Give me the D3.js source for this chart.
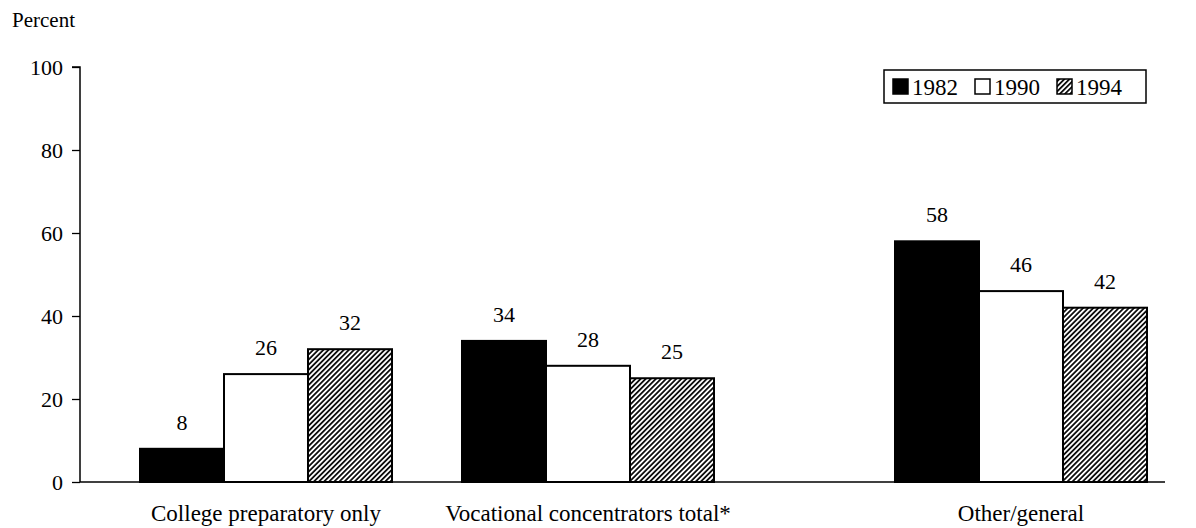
<!DOCTYPE html>
<html>
  <head>
    <script src="https://d3js.org/d3.v7.min.js"></script>
    <style>
      body { margin: 0; background: #fff; }
      text { font-family: "Liberation Serif", "Times New Roman", serif; fill: #000; }
    </style>
  </head>
  <body>
    <script>

    // data
    var categories = ["College preparatory only", "Vocational concentrators total*", "Other/general"];
    var years = ["1982", "1990", "1994"];
    var v1982 = [8, 34, 58];
    var v1990 = [26, 28, 46];
    var v1994 = [32, 25, 42];
    var yTicks = [0, 20, 40, 60, 80, 100];

    var seriesValues = [v1982, v1990, v1994];

    var w = 1196, h = 528;
    var y0 = 482, y1 = 67;   // pixel positions of 0 and 100
    var axisX = 80;

    var svg = d3.select("body").append("svg")
      .attr("width", w)
      .attr("height", h);

    // hatch pattern for 1994
    var defs = svg.append("defs");
    var pat = defs.append("pattern")
      .attr("id", "hatch")
      .attr("patternUnits", "userSpaceOnUse")
      .attr("width", 3.6)
      .attr("height", 3.6)
      .attr("patternTransform", "rotate(45)");
    pat.append("rect").attr("width", 3.6).attr("height", 3.6).attr("fill", "#fff");
    pat.append("line")
      .attr("x1", 0.9).attr("y1", 0).attr("x2", 0.9).attr("y2", 3.6)
      .attr("stroke", "#000").attr("stroke-width", 1.7);

    var fills = ["#000", "#fff", "url(#hatch)"];

    // scales
    var yScale = d3.scaleLinear().domain([0, 100]).range([y0, y1]);

    // group centres are not evenly spaced in the original
    var xGroup = d3.scaleLinear().domain([0, 1, 2]).range([266, 588, 1021]);
    var barW = 84;
    var xSub = d3.scaleBand().domain(years).range([-1.5 * barW, 1.5 * barW]).padding(0);

    // y axis
    var yAxis = d3.axisLeft(yScale)
      .tickValues(yTicks)
      .tickSize(8)
      .tickPadding(9);
    var gy = svg.append("g")
      .attr("transform", "translate(" + axisX + ",0)")
      .call(yAxis);
    gy.select(".domain").attr("stroke", "#000").attr("stroke-width", 1.5)
      .attr("d", "M-8," + y1 + "H0V" + y0);
    gy.selectAll(".tick line").attr("stroke", "#000").attr("stroke-width", 1.3);
    gy.selectAll(".tick text")
      .style("font-family", "Liberation Serif, serif")
      .style("font-size", "22px")
      .attr("fill", "#000");

    // x baseline
    svg.append("line")
      .attr("x1", axisX).attr("x2", 1165)
      .attr("y1", yScale(0)).attr("y2", yScale(0))
      .attr("stroke", "#000").attr("stroke-width", 1.5);

    // bars
    var rows = [];
    categories.forEach(function(c, i) {
      years.forEach(function(yr, j) {
        rows.push({ cat: i, year: yr, s: j, value: seriesValues[j][i] });
      });
    });

    svg.selectAll("rect.bar")
      .data(rows)
      .enter()
      .append("rect")
      .attr("class", "bar")
      .attr("x", function(d) { return xGroup(d.cat) + xSub(d.year); })
      .attr("y", function(d) { return yScale(d.value); })
      .attr("width", xSub.bandwidth())
      .attr("height", function(d) { return yScale(0) - yScale(d.value); })
      .attr("fill", function(d) { return fills[d.s]; })
      .attr("stroke", "#000")
      .attr("stroke-width", 2);

    // value labels
    svg.selectAll("text.val")
      .data(rows)
      .enter()
      .append("text")
      .attr("class", "val")
      .attr("x", function(d) { return xGroup(d.cat) + xSub(d.year) + xSub.bandwidth() / 2; })
      .attr("y", function(d) { return yScale(d.value) - 19; })
      .attr("text-anchor", "middle")
      .style("font-size", "22px")
      .text(function(d) { return d.value; });

    // category labels
    svg.selectAll("text.cat")
      .data(categories)
      .enter()
      .append("text")
      .attr("class", "cat")
      .attr("x", function(d, i) { return xGroup(i); })
      .attr("y", 521)
      .attr("text-anchor", "middle")
      .style("font-size", "23px")
      .text(function(d) { return d; });

    // y label
    svg.append("text")
      .attr("x", 12)
      .attr("y", 27)
      .style("font-size", "21px")
      .text("Percent");

    // legend
    var lg = svg.append("g").attr("transform", "translate(884,70)");
    lg.append("rect")
      .attr("width", 262).attr("height", 33)
      .attr("fill", "#fff").attr("stroke", "#000").attr("stroke-width", 1.5);
    var items = lg.selectAll("g.item")
      .data(years)
      .enter()
      .append("g")
      .attr("class", "item")
      .attr("transform", function(d, i) { return "translate(" + (9 + i * 82) + ",0)"; });
    items.append("rect")
      .attr("y", 9).attr("width", 15).attr("height", 15)
      .attr("fill", function(d, i) { return fills[i]; })
      .attr("stroke", "#000").attr("stroke-width", 1.5);
    items.append("text")
      .attr("x", 19).attr("y", 25)
      .style("font-size", "23px")
      .text(function(d) { return d; });

    </script>
  </body>
</html>
